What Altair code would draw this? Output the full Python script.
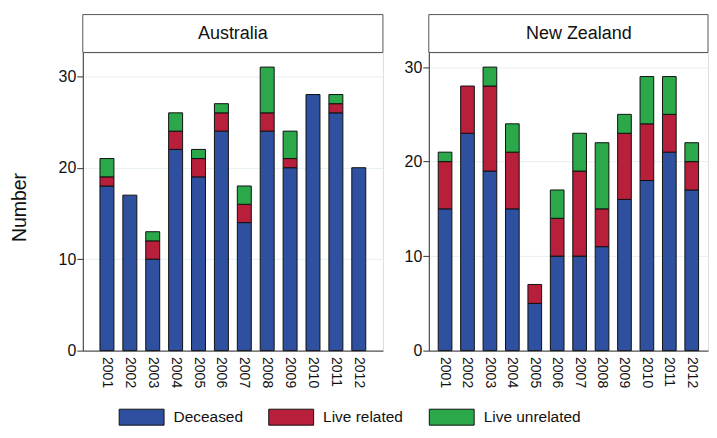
import altair as alt
import pandas as pd

years = [str(y) for y in range(2001, 2013)]
types = ["Deceased", "Live related", "Live unrelated"]

aus_deceased = [18, 17, 10, 22, 19, 24, 14, 24, 20, 28, 26, 20]
aus_live_related = [1, 0, 2, 2, 2, 2, 2, 2, 1, 0, 1, 0]
aus_live_unrelated = [2, 0, 1, 2, 1, 1, 2, 5, 3, 0, 1, 0]

nz_deceased = [15, 23, 19, 15, 5, 10, 10, 11, 16, 18, 21, 17]
nz_live_related = [5, 5, 9, 6, 2, 4, 9, 4, 7, 6, 4, 3]
nz_live_unrelated = [1, 0, 2, 3, 0, 3, 4, 7, 2, 5, 4, 2]

colors = ["#2f4f9f", "#b81f3a", "#2aa84a"]
FONT = "Liberation Sans"


def make_df(series):
    rows = []
    for t_i, (t, vals) in enumerate(zip(types, series)):
        for y, v in zip(years, vals):
            if v > 0:
                rows.append({"year": y, "type": t, "ord": t_i, "n": v})
    return pd.DataFrame(rows)


H, HH = 299, 38


def panel(name, series, ymax, show_title, W, xscale):
    df = make_df(series)
    yaxis = alt.Axis(
        values=[0, 10, 20, 30], grid=True, gridColor="#e6eff1", gridWidth=1,
        tickSize=6, tickColor="#333333", domainColor="#333333",
        labelFont=FONT, labelFontSize=16, labelColor="#111111", labelPadding=1,
        titleFont=FONT, titleFontSize=19.5, titleFontWeight="normal",
        titleColor="#111111", titlePadding=29, titleY=155,
    )
    bars = alt.Chart(df).mark_bar(stroke="#111111", strokeWidth=1).encode(
        x=alt.X("year:N", sort=years, scale=xscale,
                axis=alt.Axis(title=None, labelAngle=90, labelAlign="left",
                              labelBaseline="middle", ticks=False,
                              labelPadding=6, labelFont=FONT, labelFontSize=14,
                              labelColor="#111111", domainColor="#333333",
                              grid=False)),
        y=alt.Y("sum(n):Q", scale=alt.Scale(domain=[0, ymax], nice=False),
                title="Number" if show_title else None, axis=yaxis),
        color=alt.Color("type:N", sort=types,
                        scale=alt.Scale(domain=types, range=colors),
                        legend=alt.Legend(
                            title=None, orient="none", direction="horizontal",
                            legendX=36, legendY=357,
                            symbolType="M-1,-1H4.625V1H-1Z", symbolSize=256,
                            symbolStrokeColor="#111111", symbolStrokeWidth=1,
                            symbolOpacity=1,
                            labelOffset=38, columnPadding=23,
                            labelFont=FONT, labelFontSize=15.5,
                            labelColor="#111111")),
        order=alt.Order("ord:Q", sort="ascending"),
    )
    hdr = pd.DataFrame({"name": [name]})
    rect = alt.Chart(hdr).mark_rect(fill="white", stroke="#555555", strokeWidth=1).encode(
        x=alt.value(0), x2=alt.value(W), y=alt.value(-HH), y2=alt.value(0)
    )
    txt = alt.Chart(hdr).mark_text(font=FONT, fontSize=18, color="#111111",
                                   baseline="middle", align="center").encode(
        x=alt.value(150.5), y=alt.value(-HH / 2), text="name:N"
    )
    return alt.layer(bars, rect, txt).properties(width=W, height=H)


aus = panel("Australia", [aus_deceased, aus_live_related, aus_live_unrelated],
            32.6, True, 301, alt.Scale(paddingInner=0.39, paddingOuter=0.75))
nz = panel("New Zealand", [nz_deceased, nz_live_related, nz_live_unrelated],
           31.55, False, 280,
           alt.Scale(paddingInner=0.39, paddingOuter=0.42))

chart = alt.hconcat(aus, nz, spacing=19).resolve_scale(y="independent").configure_view(
    stroke=None
).configure(background="white").properties(
    padding={"left": 0, "top": 5, "right": 0, "bottom": 0}
)

chart.save("out.html", embed_options={"renderer": "svg", "actions": False})
